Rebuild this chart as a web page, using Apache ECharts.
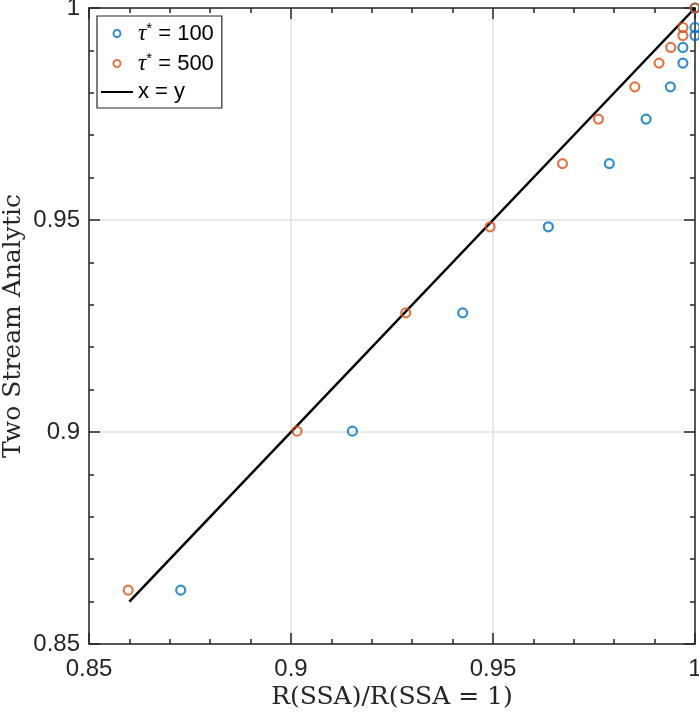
<!DOCTYPE html>
<html>
<head>
<meta charset="utf-8">
<script src="https://cdn.jsdelivr.net/npm/echarts@6/dist/echarts.min.js"></script>
<style>
  html, body { margin: 0; padding: 0; background: #fff; }
  #main { width: 699px; height: 715px; }
</style>
</head>
<body>
<div id="main"></div>
<script>
// values
var twoStream = [0.8627, 0.9002, 0.9281, 0.9484, 0.9633, 0.9738, 0.9814, 0.987, 0.9907, 0.9935, 0.9954, 1.0];
var ratioTau100 = [0.8727, 0.9152, 0.9425, 0.9637, 0.9788, 0.9879, 0.9939, 0.997, 0.997, 1.0, 1.0, 1.0];
var ratioTau500 = [0.8597, 0.9015, 0.9284, 0.9493, 0.9672, 0.9761, 0.9851, 0.9911, 0.994, 0.997, 0.997, 1.0];
var identityLine = [0.86, 1.0];
var axisTicks = [0.85, 0.9, 0.95, 1];

var names = ['τ* = 100', 'τ* = 500', 'x = y'];

function pairs(xs, ys) {
	return xs.map(function (x, i) { return [x, ys[i]]; });
}

var axisColor = '#262626';
var sansFont = 'Liberation Sans';
var serifFont = 'DejaVu Serif';

function tickFmt(v) {
	return String(+v.toFixed(2));
}

function baseAxis(extra) {
	var ax = {
		type: 'value',
		min: axisTicks[0],
		max: axisTicks[axisTicks.length - 1],
		interval: 0.05,
		axisLine: { show: true, onZero: false, lineStyle: { color: axisColor, width: 1.5 } },
		axisTick: { show: true, inside: true, length: 11, lineStyle: { color: axisColor, width: 1.5 } },
		minorTick: { show: true, splitNumber: 5, length: 5, lineStyle: { color: axisColor, width: 1.5 } },
		splitLine: { show: false },
		axisLabel: { show: false }
	};
	for (var k in extra) ax[k] = extra[k];
	return ax;
}

var myChart = echarts.init(document.getElementById('main'));

option = {
	backgroundColor: '#fff',
	animation: false,
	grid: {
		left: 89,
		right: 4,
		top: 8,
		bottom: 71,
		containLabel: false,
		outerBoundsMode: 'none'
	},
	legend: {
		data: names,
		orient: 'vertical',
		left: 97,
		top: 16,
		padding: [5, 8, 5, 3],
		itemGap: 6,
		itemWidth: 32,
		itemHeight: 7,
		backgroundColor: '#fff',
		borderColor: axisColor,
		borderWidth: 1.2,
		borderRadius: 0,
		formatter: function (name) {
			if (name === 'x = y') return name;
			return '{t|τ}{s|*}' + name.slice(2);
		},
		textStyle: {
			fontFamily: sansFont,
			fontSize: 22,
			lineHeight: 22,
			color: '#000',
			rich: {
				t: { fontFamily: 'Liberation Serif', fontStyle: 'italic', fontSize: 23, color: '#000' },
				s: { fontFamily: sansFont, fontSize: 15, color: '#000', padding: [0, 0, 10, 0] }
			}
		}
	},
	xAxis: [
		baseAxis({
			position: 'bottom',
			name: 'R(SSA)/R(SSA = 1)',
			nameLocation: 'middle',
			nameGap: 41,
			nameMoveOverlap: false,
			nameTextStyle: { fontFamily: serifFont, fontSize: 25, color: '#262626' },
			splitLine: { show: true, lineStyle: { color: '#e2e2e2', width: 1.5 } },
			axisLabel: { show: true, margin: 13, fontFamily: sansFont, fontSize: 24, color: '#262626', formatter: tickFmt }
		}),
		baseAxis({ position: 'top' })
	],
	yAxis: [
		baseAxis({
			position: 'left',
			name: 'Two Stream Analytic',
			nameLocation: 'middle',
			nameGap: 63,
			nameMoveOverlap: false,
			nameTextStyle: { fontFamily: serifFont, fontSize: 25, color: '#262626' },
			splitLine: { show: true, lineStyle: { color: '#e2e2e2', width: 1.5 } },
			axisLabel: { show: true, margin: 9, fontFamily: sansFont, fontSize: 24, color: '#262626', formatter: tickFmt }
		}),
		baseAxis({ position: 'right' })
	],
	series: [{
			name: names[0],
			type: 'scatter',
			z: 3,
			symbol: 'circle',
			symbolSize: 9,
			itemStyle: { color: 'rgba(255,255,255,0)', borderColor: '#0072BD', borderWidth: 2.2 },
			data: pairs(ratioTau100, twoStream)
		}, {
			name: names[1],
			type: 'scatter',
			z: 4,
			symbol: 'circle',
			symbolSize: 9,
			itemStyle: { color: 'rgba(255,255,255,0)', borderColor: '#D95319', borderWidth: 2.2 },
			data: pairs(ratioTau500, twoStream)
		}, {
			name: names[2],
			type: 'line',
			z: 2,
			symbol: 'none',
			lineStyle: { color: '#000', width: 2.5 },
			itemStyle: { color: 'rgba(0,0,0,0)' },
			data: pairs(identityLine, identityLine)
		}
	]
};

myChart.setOption(option);
</script>
</body>
</html>
